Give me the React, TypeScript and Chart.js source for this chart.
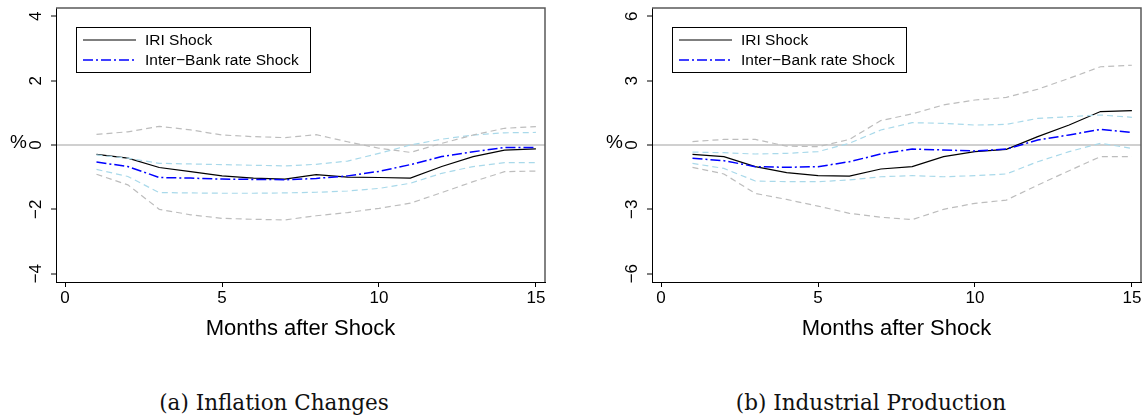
import React, { useEffect, useRef } from "react";
import { Chart, registerables } from "chart.js";

Chart.register(...registerables);

// ---------- data ----------
const months = [1, 2, 3, 4, 5, 6, 7, 8, 9, 10, 11, 12, 13, 14, 15];
const xTicks = [0, 5, 10, 15];
const yTicksInflation = [-4, -2, 0, 2, 4];
const yTicksProduction = [-6, -3, 0, 3, 6];

const legendLabels = ["IRI Shock", "Inter\u2212Bank rate Shock"];
const xTitle = "Months after Shock";
const yTitle = "%";
const captionA = "(a) Inflation Changes";
const captionB = "(b) Industrial Production";

// (a) Inflation changes
const iriInflation = [-0.29, -0.41, -0.7, -0.83, -0.96, -1.03, -1.06, -0.92, -1.0, -1.01, -1.03, -0.67, -0.36, -0.16, -0.12];
const ibInflation = [-0.53, -0.67, -1.01, -1.03, -1.06, -1.07, -1.08, -1.04, -0.96, -0.82, -0.61, -0.36, -0.21, -0.08, -0.08];
const iriUpInflation = [0.33, 0.41, 0.58, 0.47, 0.31, 0.26, 0.23, 0.32, 0.1, -0.1, -0.23, 0.05, 0.31, 0.52, 0.57];
const iriLoInflation = [-0.91, -1.24, -2.0, -2.17, -2.28, -2.31, -2.33, -2.2, -2.1, -1.97, -1.81, -1.48, -1.14, -0.83, -0.81];
const ibUpInflation = [-0.31, -0.41, -0.57, -0.59, -0.61, -0.63, -0.65, -0.6, -0.5, -0.26, 0.0, 0.18, 0.31, 0.38, 0.39];
const ibLoInflation = [-0.76, -0.98, -1.48, -1.49, -1.5, -1.5, -1.49, -1.47, -1.43, -1.35, -1.19, -0.88, -0.67, -0.55, -0.55];

// (b) Industrial production
const iriProduction = [-0.44, -0.54, -1.01, -1.29, -1.43, -1.45, -1.12, -1.01, -0.54, -0.31, -0.2, 0.39, 0.93, 1.56, 1.6];
const ibProduction = [-0.62, -0.73, -1.01, -1.04, -1.01, -0.78, -0.42, -0.19, -0.23, -0.28, -0.19, 0.23, 0.47, 0.73, 0.58];
const iriUpProduction = [0.16, 0.26, 0.26, -0.05, -0.08, 0.26, 1.14, 1.45, 1.87, 2.1, 2.22, 2.6, 3.11, 3.65, 3.72];
const iriLoProduction = [-1.04, -1.35, -2.26, -2.54, -2.85, -3.19, -3.37, -3.48, -3.0, -2.72, -2.57, -1.87, -1.2, -0.54, -0.54];
const ibUpProduction = [-0.33, -0.36, -0.42, -0.39, -0.31, 0.08, 0.7, 1.04, 1.01, 0.93, 0.96, 1.24, 1.32, 1.4, 1.29];
const ibLoProduction = [-0.86, -1.09, -1.68, -1.71, -1.71, -1.63, -1.48, -1.43, -1.48, -1.43, -1.35, -0.78, -0.31, 0.08, -0.16];

// ---------- styles ----------
const SANS = '"Liberation Sans", Arial, Helvetica, sans-serif';
const SERIF = '"DejaVu Serif", "Liberation Serif", serif';
const CANVAS_H = 350;
const BLUE_DASH = [10, 3, 2, 3];
const CI_DASH = [6, 4];

const fmt = (v: number) => (v < 0 ? "\u2212" + Math.abs(v) : String(v));

type PanelProps = {
  iri: number[];
  ib: number[];
  iriUp: number[];
  iriLo: number[];
  ibUp: number[];
  ibLo: number[];
  yTicks: number[];
  yLim: number;
  left: number;
  width: number;
  padRight: number;
};

function Panel(p: PanelProps) {
  const ref = useRef<HTMLCanvasElement | null>(null);

  useEffect(() => {
    if (!ref.current) return;
    const pts = (arr: number[]) => arr.map((v, i) => ({ x: months[i], y: v }));
    const ci = (arr: number[], color: string) => ({
      data: pts(arr),
      borderColor: color,
      borderWidth: 1.2,
      borderDash: CI_DASH,
      pointRadius: 0,
      fill: false,
      tension: 0,
    });

    const frameLegend = {
      id: "frameLegend",
      afterDraw(chart: any) {
        const { ctx, chartArea } = chart;
        const { left, right, top, bottom } = chartArea;
        ctx.save();
        // frame (top & right)
        ctx.strokeStyle = "#5a5a5a";
        ctx.lineWidth = 1.5;
        ctx.setLineDash([]);
        ctx.beginPath();
        ctx.moveTo(left, top);
        ctx.lineTo(right, top);
        ctx.lineTo(right, bottom);
        ctx.stroke();

        // legend box
        const bx = left + 20;
        const by = top + 19;
        const bw = 234;
        const bh = 45;
        ctx.fillStyle = "#ffffff";
        ctx.fillRect(bx, by, bw, bh);
        ctx.strokeStyle = "#000";
        ctx.lineWidth = 1;
        ctx.strokeRect(bx + 0.5, by + 0.5, bw, bh);

        const rows = [
          { y: top + 32, color: "#000", dash: [] as number[], w: 1.2, label: legendLabels[0] },
          { y: top + 52, color: "#0000ff", dash: BLUE_DASH, w: 1.5, label: legendLabels[1] },
        ];
        ctx.font = `15.5px ${SANS}`;
        ctx.textBaseline = "middle";
        ctx.textAlign = "left";
        rows.forEach((r) => {
          ctx.strokeStyle = r.color;
          ctx.lineWidth = r.w;
          ctx.setLineDash(r.dash);
          ctx.beginPath();
          ctx.moveTo(left + 27, r.y);
          ctx.lineTo(left + 80, r.y);
          ctx.stroke();
          ctx.setLineDash([]);
          ctx.fillStyle = "#000";
          ctx.fillText(r.label, left + 89, r.y + 1);
        });

        // y title "%"
        ctx.font = `19px ${SANS}`;
        ctx.textAlign = "center";
        ctx.fillStyle = "#000";
        ctx.fillText(yTitle, 18.5, chart.scales.y.getPixelForValue(0) - 2);
        ctx.restore();
      },
    };

    const chart = new Chart(ref.current, {
      type: "line",
      data: {
        datasets: [
          ci(p.iriUp, "#bdbdbd"),
          ci(p.iriLo, "#bdbdbd"),
          ci(p.ibUp, "#a9d9ea"),
          ci(p.ibLo, "#a9d9ea"),
          {
            data: pts(p.ib),
            borderColor: "#0000ff",
            borderWidth: 1.5,
            borderDash: BLUE_DASH,
            pointRadius: 0,
            fill: false,
            tension: 0,
          },
          {
            data: pts(p.iri),
            borderColor: "#000000",
            borderWidth: 1.2,
            pointRadius: 0,
            fill: false,
            tension: 0,
          },
        ],
      },
      options: {
        animation: false,
        responsive: false,
        maintainAspectRatio: false,
        devicePixelRatio: 1,
        layout: { padding: { top: 8, right: p.padRight, left: 0, bottom: 0 } },
        plugins: { legend: { display: false }, tooltip: { enabled: false }, title: { display: false } },
        scales: {
          x: {
            type: "linear",
            min: -0.29,
            max: 15.29,
            afterBuildTicks: (s: any) => {
              s.ticks = xTicks.map((v) => ({ value: v }));
            },
            afterFit: (s: any) => {
              s.height = CANVAS_H - 282;
              s.paddingLeft = 0;
              s.paddingRight = 0;
            },
            ticks: {
              font: { family: SANS, size: 17 },
              color: "#000",
              padding: 1,
              minRotation: 0,
              maxRotation: 0,
              autoSkip: false,
              callback: (v: any) => fmt(Number(v)),
            },
            grid: { drawOnChartArea: false, drawTicks: true, tickLength: 5, tickColor: "#000", tickWidth: 1 },
            border: { display: true, color: "#000", width: 1 },
            title: {
              display: true,
              text: xTitle,
              color: "#000",
              font: { family: SANS, size: 22 },
              padding: { top: 0, bottom: 8 },
            },
          },
          y: {
            type: "linear",
            min: -p.yLim,
            max: p.yLim,
            afterBuildTicks: (s: any) => {
              s.ticks = p.yTicks.map((v) => ({ value: v }));
            },
            afterFit: (s: any) => {
              s.width = 56;
              s.paddingTop = 0;
              s.paddingBottom = 0;
            },
            ticks: {
              font: { family: SANS, size: 17 },
              color: "#000",
              padding: 5,
              minRotation: 90,
              maxRotation: 90,
              crossAlign: "center",
              autoSkip: false,
              callback: (v: any) => fmt(Number(v)),
            },
            grid: {
              drawOnChartArea: true,
              drawTicks: true,
              tickLength: 5,
              tickColor: "#000",
              tickWidth: 1,
              color: (c: any) => (c.tick && c.tick.value === 0 ? "#d0d0d0" : "rgba(0,0,0,0)"),
              lineWidth: (c: any) => (c.tick && c.tick.value === 0 ? 2 : 0),
            },
            border: { display: true, color: "#000", width: 1 },
          },
        },
      } as any,
      plugins: [frameLegend],
    });
    return () => chart.destroy();
  }, []);

  return (
    <canvas
      ref={ref}
      width={p.width}
      height={CANVAS_H}
      style={{ position: "absolute", left: p.left, top: 0, width: p.width, height: CANVAS_H }}
    />
  );
}

const captionStyle = (center: number): React.CSSProperties => ({
  position: "absolute",
  left: center - 200,
  width: 400,
  top: 390,
  textAlign: "center",
  fontFamily: SERIF,
  fontSize: 21.5,
  lineHeight: "26px",
  color: "#111",
  whiteSpace: "nowrap",
});

export default function App() {
  return (
    <div style={{ position: "absolute", left: 0, top: 0, width: 1148, height: 417, background: "#fff", overflow: "hidden" }}>
      <Panel
        iri={iriInflation}
        ib={ibInflation}
        iriUp={iriUpInflation}
        iriLo={iriLoInflation}
        ibUp={ibUpInflation}
        ibLo={ibLoInflation}
        yTicks={yTicksInflation}
        yLim={4.26}
        left={0}
        width={574}
        padRight={29}
      />
      <Panel
        iri={iriProduction}
        ib={ibProduction}
        iriUp={iriUpProduction}
        iriLo={iriLoProduction}
        ibUp={ibUpProduction}
        ibLo={ibLoProduction}
        yTicks={yTicksProduction}
        yLim={6.39}
        left={596}
        width={552}
        padRight={7}
      />
      <div style={captionStyle(274)}>{captionA}</div>
      <div style={captionStyle(871)}>{captionB}</div>
    </div>
  );
}
